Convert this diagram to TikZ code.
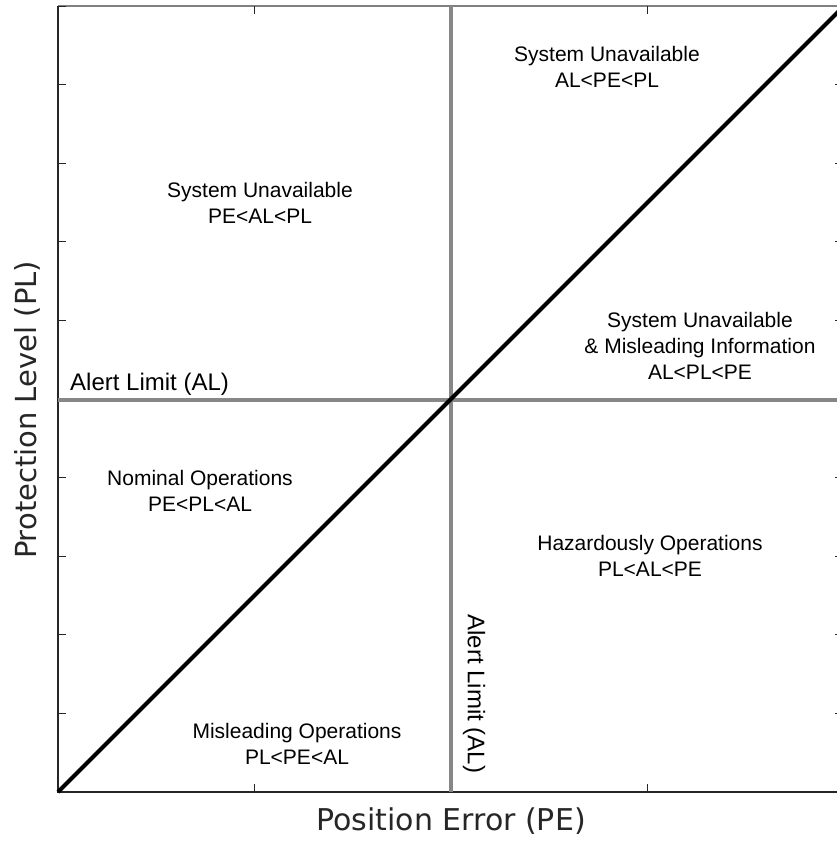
\documentclass[tikz,border=0pt]{standalone}
\usepackage{fontspec}
\setmainfont{Liberation Sans}
\newfontfamily\axisfont{DejaVu Sans}
\usepackage{tikz}

\tikzset{
  region/.style = {align = center, font = \fontsize{21}{26}\selectfont},
  limitlabel/.style = {font = \fontsize{24}{28}\selectfont},
  axislabel/.style = {font = \axisfont\fontsize{30}{36}\selectfont, text = black!85},
  limitline/.style = {line width = 4pt, draw = black!47},
  frameline/.style = {line width = 1.3pt, draw = black!85},
  tickline/.style = {line width = 1pt, draw = black!85},
}

\begin{document}
\begin{tikzpicture}[x = 1pt, y = -1pt]
        \useasboundingbox (0, 0) rectangle (837, 841);
        \clip (0, 0) rectangle (837, 841);
        % corners of the axes
        \coordinate (origin) at (58, 792);
        \coordinate (topleft) at (58, 6);
        \coordinate (topright) at (843, 6);
        \coordinate (bottomright) at (843, 792);
        % alert limit lines
        \coordinate (alx) at (450.5, 792);
        \coordinate (alxtop) at (450.5, 6);
        \coordinate (aly) at (58, 399.5);
        \coordinate (alyright) at (843, 399.5);
        \coordinate (diagend) at (844, 6);
        % frame
        \draw [frameline] (topleft) -- (origin) -- (bottomright);
        \draw [line width = 1.3pt, draw = black!50] (topleft) -- (topright);
        % ticks
        \draw [tickline] (58, 713.4) -- (66, 713.4);
        \draw [tickline] (58, 634.8) -- (66, 634.8);
        \draw [tickline] (58, 556.2) -- (66, 556.2);
        \draw [tickline] (58, 477.6) -- (66, 477.6);
        \draw [tickline] (58, 320.4) -- (66, 320.4);
        \draw [tickline] (58, 241.8) -- (66, 241.8);
        \draw [tickline] (58, 163.2) -- (66, 163.2);
        \draw [tickline] (58, 84.6) -- (66, 84.6);
        \draw [tickline] (58, 6) -- (66, 6);
        \draw [tickline] (843, 713.4) -- (835, 713.4);
        \draw [tickline] (843, 634.8) -- (835, 634.8);
        \draw [tickline] (843, 556.2) -- (835, 556.2);
        \draw [tickline] (843, 477.6) -- (835, 477.6);
        \draw [tickline] (843, 320.4) -- (835, 320.4);
        \draw [tickline] (843, 241.8) -- (835, 241.8);
        \draw [tickline] (843, 163.2) -- (835, 163.2);
        \draw [tickline] (843, 84.6) -- (835, 84.6);
        \draw [tickline] (254.5, 792) -- (254.5, 784);
        \draw [tickline] (647.5, 792) -- (647.5, 784);
        \draw [tickline] (254.5, 6) -- (254.5, 14);
        \draw [tickline] (647.5, 6) -- (647.5, 14);
        % alert limits and PL = PE
        \draw [limitline] (alx) -- (alxtop);
        \draw [limitline] (aly) -- (alyright);
        \draw [line width = 4pt] (origin) -- (diagend);
        % regions
        \node (unavailtop) at (607, 66.5) [region] {System Unavailable\\AL<PE<PL};
        \node (unavailleft) at (260, 202.5) [region] {System Unavailable\\PE<AL<PL};
        \node (unavailmis) at (700, 345.5) [region] {System Unavailable\\\& Misleading Information\\AL<PL<PE};
        \node (nominal) at (200, 490.5) [region] {Nominal Operations\\PE<PL<AL};
        \node (hazard) at (650, 555.5) [region] {Hazardously Operations\\PL<AL<PE};
        \node (mislead) at (297, 743.5) [region] {Misleading Operations\\PL<PE<AL};
        % limit labels
        \node (allabel) at (70, 390) [limitlabel, anchor = base west, inner sep = 0pt] {Alert Limit (AL)};
        \node (alvlabel) at (474, 694) [limitlabel, rotate = -90] {Alert Limit (AL)};
        % axis titles
        \node (pelabel) at (451, 830) [axislabel, anchor = base] {Position Error (PE)};
        \node (pllabel) at (36, 410) [axislabel, anchor = base, rotate = 90, font = \axisfont\fontsize{29}{35}\selectfont] {Protection Level (PL)};
    \end{tikzpicture}
\end{document}
